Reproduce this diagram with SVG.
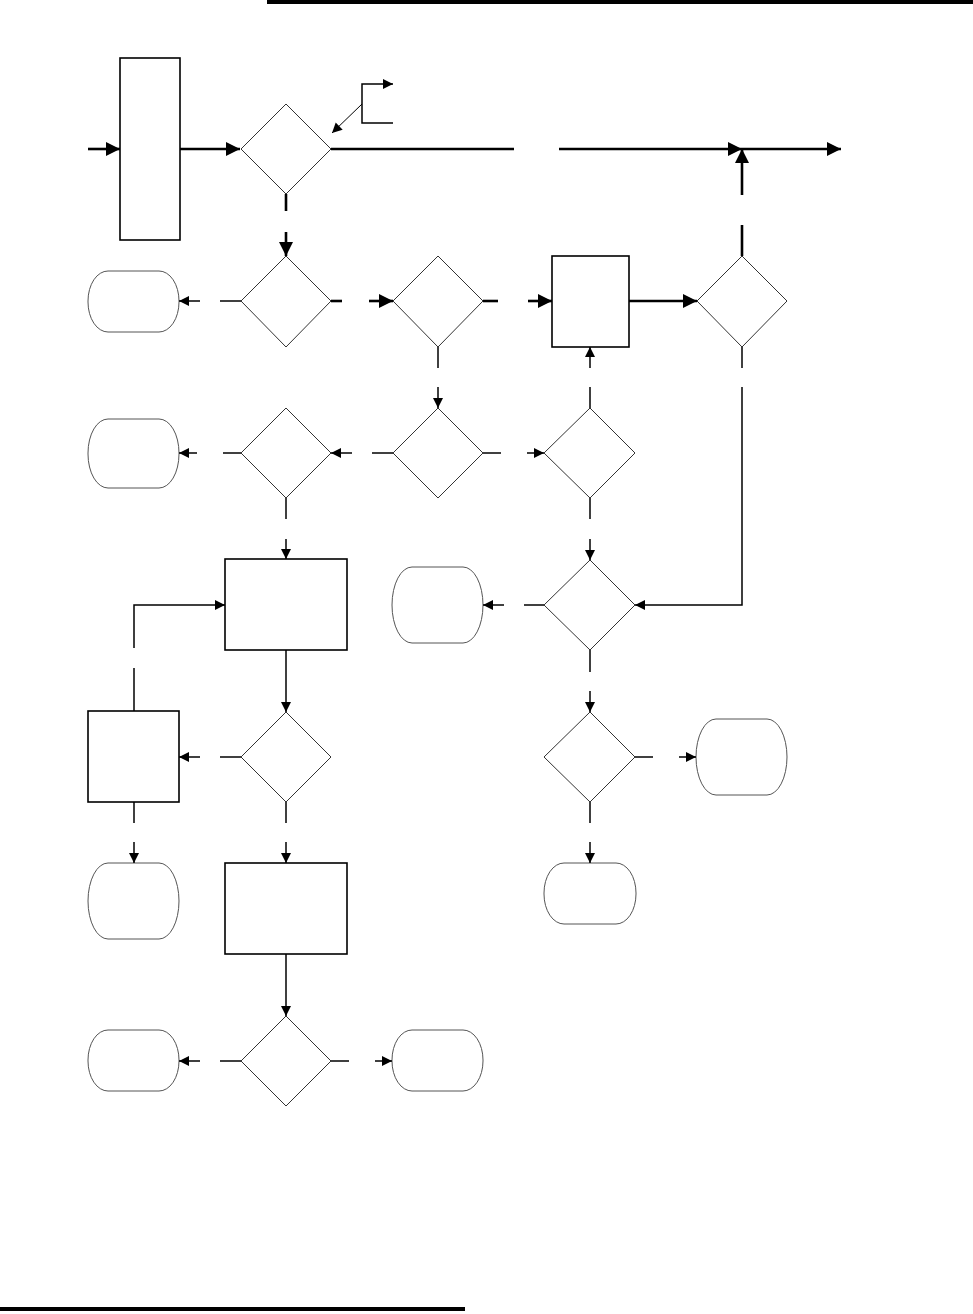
<svg xmlns="http://www.w3.org/2000/svg" width="973" height="1314" viewBox="0 0 973 1314">
<style>
.proc{fill:#fff;stroke:#000;stroke-width:1.6}
.dec{fill:#fff;stroke:#333;stroke-width:1}
.term{fill:#fff;stroke:#555;stroke-width:1}
.thick{fill:none;stroke:#000;stroke-width:2.6}
.thin{fill:none;stroke:#000;stroke-width:1.5}
.hair{fill:none;stroke:#000;stroke-width:1}
.big{marker-end:url(#ab)}
.sm{marker-end:url(#as)}
</style>
<defs>
<marker id="ab" markerUnits="userSpaceOnUse" markerWidth="15" markerHeight="15" refX="14" refY="7" orient="auto"><path d="M0,0 L14,7 L0,14 z" fill="#000"/></marker>
<marker id="as" markerUnits="userSpaceOnUse" markerWidth="11" markerHeight="11" refX="10" refY="5" orient="auto"><path d="M0,0 L10,5 L0,10 z" fill="#000"/></marker>
</defs>
<rect x="267" y="0" width="706" height="4" fill="#000"/>
<rect x="0" y="1307" width="465" height="4" fill="#000"/>

<g id="r1"><rect class="proc" x="120" y="58" width="60" height="182"/></g>
<g id="d1"><polygon class="dec" points="286,104 331,149 286,194 241,149"/></g>
<g id="d2"><polygon class="dec" points="286,256 331,301 286,347 241,301"/></g>
<g id="d3"><polygon class="dec" points="438,256 483,301 438,347 393,301"/></g>
<g id="r2"><rect class="proc" x="552" y="256" width="77" height="91"/></g>
<g id="d6"><polygon class="dec" points="742,256 787,301 742,347 697,301"/></g>
<g id="t1"><rect class="term" x="88" y="271" width="91" height="61" rx="20" ry="30"/></g>
<g id="t2"><rect class="term" x="88" y="419" width="91" height="69" rx="20" ry="34"/></g>
<g id="d4"><polygon class="dec" points="286,408 331,453 286,498 241,453"/></g>
<g id="d5"><polygon class="dec" points="438,408 483,453 438,498 393,453"/></g>
<g id="d7"><polygon class="dec" points="590,408 635,453 590,498 544,453"/></g>
<g id="r3"><rect class="proc" x="225" y="559" width="122" height="91"/></g>
<g id="t3"><rect class="term" x="392" y="567" width="91" height="76" rx="20" ry="38"/></g>
<g id="d8"><polygon class="dec" points="590,560 635,605 590,650 544,605"/></g>
<g id="r4"><rect class="proc" x="88" y="711" width="91" height="91"/></g>
<g id="d9"><polygon class="dec" points="286,712 331,757 286,802 241,757"/></g>
<g id="d10"><polygon class="dec" points="590,712 635,757 590,802 544,757"/></g>
<g id="t4"><rect class="term" x="696" y="719" width="91" height="76" rx="20" ry="38"/></g>
<g id="t6"><rect class="term" x="88" y="863" width="91" height="76" rx="20" ry="38"/></g>
<g id="r5"><rect class="proc" x="225" y="863" width="122" height="91"/></g>
<g id="t5"><rect class="term" x="544" y="863" width="92" height="61" rx="20" ry="30"/></g>
<g id="d11"><polygon class="dec" points="286,1016 331,1061 286,1106 241,1061"/></g>
<g id="t7"><rect class="term" x="88" y="1030" width="91" height="61" rx="20" ry="30"/></g>
<g id="t8"><rect class="term" x="392" y="1030" width="91" height="61" rx="20" ry="30"/></g>

<g id="connectors">
<path class="thick big" d="M88,149 H120"/>
<path class="thick big" d="M180,149 H240"/>
<path class="thick" d="M331,149 H514"/>
<path class="thick big" d="M559,149 H742"/>
<path class="thick big" d="M742,149 H841"/>
<path class="thick big" d="M742,195 V149"/>
<path class="thick" d="M742,225 V256"/>
<path class="thick" d="M286,194 V211"/>
<path class="thick big" d="M286,232 V256"/>
<path class="thin sm" d="M393,123 H362 V84 H393"/>
<path class="hair sm" d="M362,104 L332,133"/>
<path class="thin" d="M241,301 H220"/>
<path class="thin sm" d="M200,301 H179"/>
<path class="thick" d="M331,301 H342"/>
<path class="thick big" d="M369,301 H393"/>
<path class="thin" d="M438,347 V368"/>
<path class="thin sm" d="M438,387 V408"/>
<path class="thick" d="M483,301 H498"/>
<path class="thick big" d="M528,301 H552"/>
<path class="thick big" d="M629,301 H697"/>
<path class="thin" d="M590,408 V387"/>
<path class="thin sm" d="M590,368 V347"/>
<path class="thin" d="M742,347 V368"/>
<path class="thin sm" d="M742,387 V605 H635"/>
<path class="thin" d="M241,453 H223"/>
<path class="thin sm" d="M197,453 H179"/>
<path class="thin" d="M393,453 H372"/>
<path class="thin sm" d="M352,453 H331"/>
<path class="thin" d="M483,453 H501"/>
<path class="thin sm" d="M527,453 H544"/>
<path class="thin" d="M286,498 V519"/>
<path class="thin sm" d="M286,539 V559"/>
<path class="thin" d="M590,498 V519"/>
<path class="thin sm" d="M590,539 V560"/>
<path class="thin sm" d="M286,650 V712"/>
<path class="thin" d="M134,711 V668"/>
<path class="thin sm" d="M134,648 V605 H225"/>
<path class="thin" d="M241,757 H220"/>
<path class="thin sm" d="M200,757 H179"/>
<path class="thin" d="M544,605 H524"/>
<path class="thin sm" d="M504,605 H483"/>
<path class="thin" d="M590,650 V672"/>
<path class="thin sm" d="M590,691 V712"/>
<path class="thin" d="M635,757 H653"/>
<path class="thin sm" d="M679,757 H696"/>
<path class="thin" d="M590,802 V823"/>
<path class="thin sm" d="M590,842 V863"/>
<path class="thin" d="M134,802 V823"/>
<path class="thin sm" d="M134,842 V863"/>
<path class="thin" d="M286,802 V823"/>
<path class="thin sm" d="M286,842 V863"/>
<path class="thin sm" d="M286,954 V1016"/>
<path class="thin" d="M241,1061 H220"/>
<path class="thin sm" d="M200,1061 H179"/>
<path class="thin" d="M331,1061 H349"/>
<path class="thin sm" d="M375,1061 H392"/>
</g>
</svg>
